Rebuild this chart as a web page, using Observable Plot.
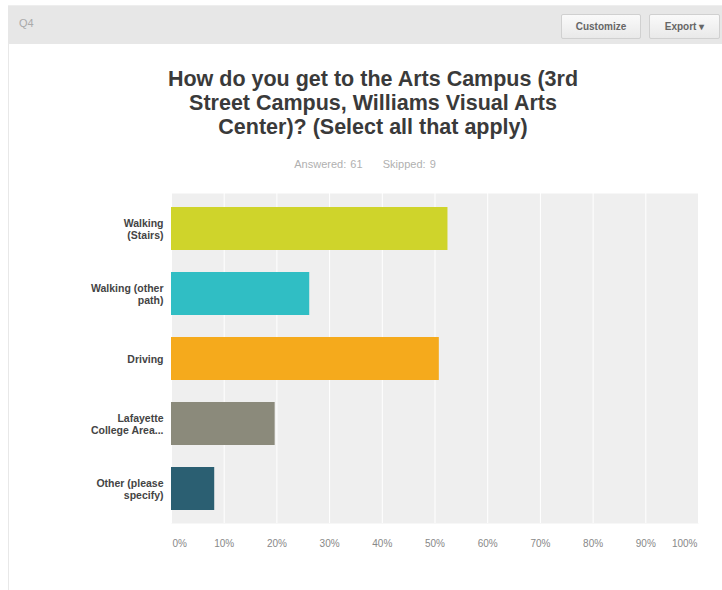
<!DOCTYPE html>
<html>
<head>
<meta charset="utf-8">
<script src="https://cdn.jsdelivr.net/npm/d3@7"></script>
<script src="https://cdn.jsdelivr.net/npm/@observablehq/plot@0.6"></script>
<style>
  html, body { margin: 0; padding: 0; background: #fff; }
  body { width: 722px; height: 590px; position: relative; overflow: hidden; font-family: "Liberation Sans", Arial, sans-serif; }
  #header { position: absolute; left: 8px; top: 5px; width: 714px; height: 38px; background: #e7e7e7; border-top: 1px solid #eee; }
  #q { position: absolute; left: 11px; top: 11px; font-size: 11px; color: #aaa; }
  .btn { position: absolute; top: 8px; height: 23px; line-height: 23px; font-size: 10px; font-weight: bold; color: #666; background: linear-gradient(#fafafa, #e9e9e9); border: 1px solid #d0d0d0; border-radius: 2px; text-align: center; }
  #leftline { position: absolute; left: 8px; top: 43px; width: 1px; height: 547px; background: #e8e8e8; }
  #title { position: absolute; left: 120px; width: 506px; top: 67px; text-align: center; font-size: 21.5px; font-weight: bold; color: #3a3a3a; line-height: 24px; }
  #sub { position: absolute; left: 140px; width: 450px; top: 158px; text-align: center; font-size: 11px; color: #b0b0b0; word-spacing: 1px; }
  #chart { position: absolute; left: 0; top: 183px; }
</style>
</head>
<body>
<div id="header">
  <div id="q">Q4</div>
  <div class="btn" style="left:553px;width:78px;">Customize</div>
  <div class="btn" style="left:641px;width:69px;">Export ▾</div>
</div>
<div id="leftline"></div>
<div id="title">How do you get to the Arts Campus (3rd<br>Street Campus, Williams Visual Arts<br>Center)? (Select all that apply)</div>
<div id="sub">Answered: 61&nbsp;&nbsp;&nbsp;&nbsp;&nbsp;Skipped: 9</div>
<div id="chart"></div>
<script>
const categories = ["Walking (Stairs)", "Walking (other path)", "Driving", "Lafayette College Area...", "Other (please specify)"];
const tickLabels = ["Walking\n(Stairs)", "Walking (other\npath)", "Driving", "Lafayette\nCollege Area...", "Other (please\nspecify)"];
const percents = [52.46, 26.23, 50.82, 19.67, 8.20];
const colors = ["#cfd42b", "#30bec4", "#f5aa1c", "#8b8a7b", "#2b5f72"];
const xTicks = [0, 10, 20, 30, 40, 50, 60, 70, 80, 90, 100];

const data = categories.map((c, i) => ({category: c, value: percents[i], color: colors[i]}));
const labelOf = new Map(categories.map((c, i) => [c, tickLabels[i]]));
const fmt = d => d + "%";
const axisStyle = {tickSize: 0, tickPadding: 16, fontSize: 10, fill: "#888", tickFormat: fmt};

const chart = Plot.plot({
  width: 722,
  height: 370,
  marginLeft: 171,
  marginRight: 24,
  marginTop: 10,
  marginBottom: 30,
  style: {fontFamily: "Liberation Sans, Arial, sans-serif", background: "transparent"},
  x: {domain: [0, 100], label: null},
  y: {domain: categories, paddingInner: 0.344, paddingOuter: 0.19, label: null},
  marks: [
    Plot.frame({fill: "#efefef", stroke: null}),
    Plot.gridX(xTicks, {stroke: "#ffffff", strokeOpacity: 1, strokeWidth: 1}),
    Plot.barX(data, {y: "category", x: "value", fill: "color"}),
    Plot.axisX(xTicks.slice(1, -1), {...axisStyle}),
    Plot.axisX(xTicks.slice(0, 1), {...axisStyle, textAnchor: "start", dx: 1}),
    Plot.axisX(xTicks.slice(-1), {...axisStyle, textAnchor: "end", dx: -1}),
    Plot.axisY({tickSize: 0, tickPadding: 8, fontSize: 10.5, fontWeight: "bold", fill: "#444", lineHeight: 1.15, tickFormat: d => labelOf.get(d)})
  ]
});
document.getElementById("chart").appendChild(chart);
</script>
</body>
</html>
